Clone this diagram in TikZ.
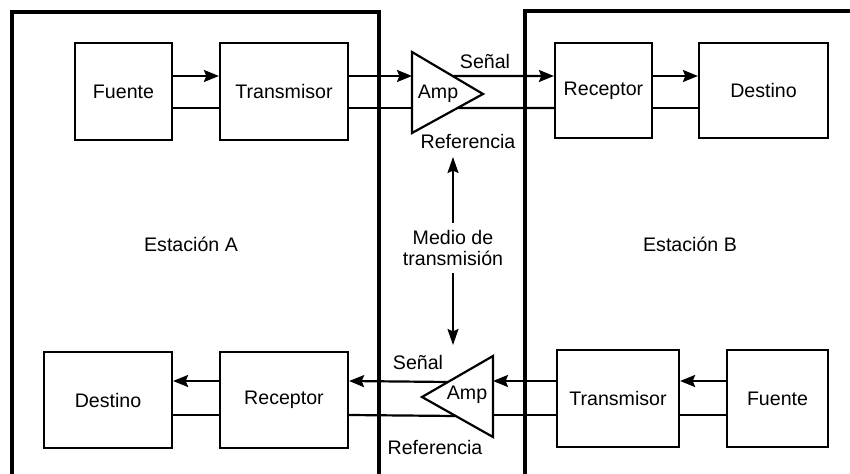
\documentclass[tikz,border=0pt]{standalone}
\usepackage{fontspec}
\setmainfont{Liberation Sans}
\usetikzlibrary{arrows.meta,calc}

\tikzset{
  blk/.style={draw, line width=1.1pt, minimum height=48.5pt, inner sep=0pt,
              font=\fontsize{9.8}{12}\selectfont},
  lbl/.style={inner sep=0pt, font=\fontsize{9.8}{12}\selectfont},
  frame/.style={draw, line width=2.1pt},
  wire/.style={line width=1.1pt},
  sig/.style={wire, -{Stealth[length=7.5pt,width=6pt,inset=1.2pt]}},
  amp/.style={draw, line width=1.1pt, line join=miter},
  medarrow/.style={line width=0.9pt, -{Stealth[length=8pt,width=5.5pt,inset=1.2pt]}}
}

\begin{document}
\begin{tikzpicture}[x=0.5pt,y=-0.5pt]
\useasboundingbox (0,0) rectangle (850,474);
\clip (0,0) rectangle (850,474);
\fill[white] (0,0) rectangle (850,474);

% wire heights
\coordinate (sigTop) at (0,76);
\coordinate (refTop) at (0,108);
\coordinate (sigBot) at (0,381);
\coordinate (refBot) at (0,415);

% --- top row: A sends to B ---
\node[blk, minimum width=48.5pt] (fA) at (123.5,91.5) {Fuente};
\node[blk, minimum width=64pt]   (tA) at (284,91.5)   {Transmisor};
\node[blk, minimum width=48.5pt, minimum height=47.5pt] (rB) at (603.5,90.5) {Receptor};
\node[blk, minimum width=64.5pt, minimum height=47.5pt] (dB) at (763.5,90.5) {Destino};

% --- bottom row: B sends to A ---
\node[blk, minimum width=64pt, minimum height=48pt] (dA) at (108,400) {Destino};
\node[blk, minimum width=64pt, minimum height=48pt] (rA) at (284,400) {Receptor};
\node[blk, minimum width=61pt, minimum height=48.5pt] (tB) at (618,398.5) {Transmisor};
\node[blk, minimum width=50.5pt, minimum height=48.5pt] (fB) at (777.5,398.5) {Fuente};

% amplifier A -> B
\coordinate (aTl) at (412,52);
\coordinate (aTb) at (412,133);
\coordinate (aTt) at (483,94);
\draw[amp] (aTl) -- (aTt) -- (aTb) -- cycle;
\node[lbl] (ampT) at (438,94) {Amp};

% amplifier B -> A
\coordinate (aBt) at (493,356);
\coordinate (aBb) at (493,437);
\coordinate (aBp) at (422,397);
\draw[amp] (aBt) -- (aBp) -- (aBb) -- cycle;
\node[lbl] (ampB) at (467,395) {Amp};

% links inside station A (top)
\draw[sig]  (fA.east |- sigTop) -- (tA.west |- sigTop);
\draw[wire] (fA.east |- refTop) -- (tA.west |- refTop);
% links inside station B (top)
\draw[sig]  (rB.east |- sigTop) -- (dB.west |- sigTop);
\draw[wire] (rB.east |- refTop) -- (dB.west |- refTop);

% medium, top
\draw[sig]  (tA.east |- sigTop) -- (aTl |- sigTop);
\draw[sig]  ($(aTl)!0.571!(aTt)$) -- (rB.west |- sigTop);
\draw[wire] (tA.east |- refTop) -- (aTl |- refTop);
\draw[wire] ($(aTb)!0.641!(aTt)$) -- (rB.west |- refTop);

% links inside stations (bottom)
\draw[sig]  (fB.west |- sigBot) -- (tB.east |- sigBot);
\draw[wire] (fB.west |- refBot) -- (tB.east |- refBot);
\draw[sig]  (rA.west |- sigBot) -- (dA.east |- sigBot);
\draw[wire] (rA.west |- refBot) -- (dA.east |- refBot);

% medium, bottom
\draw[sig]  (tB.west |- sigBot) -- (aBt |- sigBot);
\draw[sig]  ($(aBt)!0.634!(aBp)$) -- (rA.east |- sigBot);
\draw[wire] (tB.west |- refBot) -- (aBt |- refBot);
\draw[wire] ($(aBb)!0.525!(aBp)$) -- (rA.east |- refBot);

% wire labels
\node[lbl] (senT) at (485,62)  {Señal};
\node[lbl] (refT) at (468,142) {Referencia};
\node[lbl] (senB) at (418,362) {Señal};
\node[lbl] (refB) at (435,447) {Referencia};

% stations
\draw[frame] (12,12) rectangle (379,495);
\draw[frame] (525,11) rectangle (875,495);
\node[lbl] (stA) at (191,244) {Estación A};
\node[lbl] (stB) at (690,244) {Estación B};

% transmission medium
\node[lbl, align=center, font=\fontsize{9.8}{10.6}\selectfont] (med) at (453,248) {Medio de\\transmisión};
\coordinate (medUp) at (453,157);
\coordinate (medDn) at (453,345);
\draw[medarrow] (med.north) ++(0,-7) -- (medUp);
\draw[medarrow] (med.south) ++(0,7) -- (medDn);
\end{tikzpicture}
\end{document}
